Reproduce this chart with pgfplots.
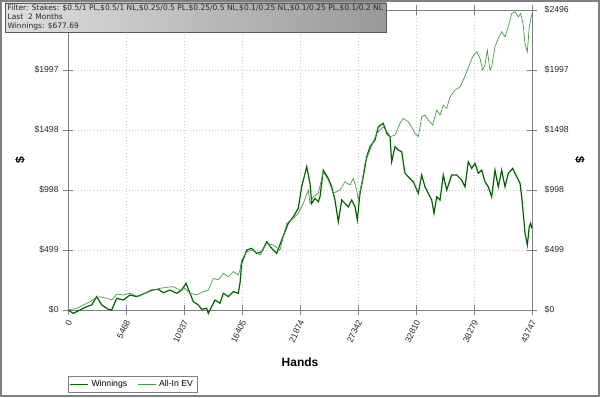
\documentclass[border=0pt]{standalone}
\usepackage{pgfplots}
\pgfplotsset{compat=1.18}
\usepackage{fontspec}
\setmainfont{Liberation Sans}
\newfontfamily\dejavu{DejaVu Sans}
\definecolor{wincol}{RGB}{0,100,0}
\definecolor{evcol}{RGB}{70,150,70}
\definecolor{gridcol}{RGB}{200,200,200}
\definecolor{axiscol}{RGB}{128,128,128}
\definecolor{txtcol}{RGB}{40,40,40}
\begin{document}
\begin{tikzpicture}
\useasboundingbox (-51pt,-65.25pt) rectangle (399pt,232.5pt);
\draw[axiscol,line width=1.2pt] (-50.4pt,-64.65pt) rectangle (398.4pt,231.9pt);
\begin{axis}[
  at={(0,0)}, anchor=south west, scale only axis,
  width=348pt, height=225pt,
  xmin=0, xmax=43747, ymin=0, ymax=2496,
  clip=false,
  scaled x ticks=false, scaled y ticks=false,
  axis line style={axiscol},
  xtick={0,5468,10937,16405,21874,27342,32810,38279,43747},
  xticklabels={0,5468,10937,16405,21874,27342,32810,38279,43747},
  ytick={0,499,998,1498,1997,2496},
  yticklabels={\$0,\$499,\$998,\$1498,\$1997,\$2496},
  minor x tick num=4, minor y tick num=4,
  tick align=center,
  major tick length=7pt, minor tick length=4pt,
  every tick/.style={axiscol, line width=0.5pt},
  xtick pos=both, ytick pos=both,
  xticklabel pos=bottom, yticklabel pos=left,
  grid=major,
  major grid style={gridcol, dotted, line width=0.5pt},
  tick label style={font=\fontsize{6.5}{7.5}\selectfont, text=txtcol},
  xticklabel style={rotate=65, anchor=east, yshift=-3pt},
  yticklabel style={xshift=0pt},
  xlabel={Hands}, ylabel={\$},
  xlabel style={at={(axis description cs:0.5,-0.173)}, anchor=center, font=\fontsize{9}{10}\selectfont\bfseries},
  ylabel style={at={(axis description cs:-0.103,0.5)}, anchor=center, rotate=0, font=\fontsize{9}{10}\selectfont\bfseries},
  legend style={at={(axis description cs:0,-0.219)}, anchor=north west, draw=axiscol, line width=0.5pt,
    font=\fontsize{6.5}{7.5}\selectfont, inner sep=1pt, row sep=-1pt,
    /tikz/every even column/.append style={column sep=6pt}},
  legend columns=2,
  legend image code/.code={\draw[#1] (0pt,0pt) -- (13.5pt,0pt);},
]
\addplot[wincol, line width=0.9pt] table {
x y
0 0
500 -28
1131 0
1760 28
2232 42
2704 111
3174 42
3800 6
4118 0
4590 97
5215 83
5845 125
6475 111
7260 139
7890 166
8515 172
8985 144
9617 166
10245 139
10720 166
11125 222
11502 139
11815 69
12285 42
12605 6
13075 14
13230 -28
13548 28
13860 83
14330 56
14645 139
15115 111
15585 153
16055 139
16216 222
16375 388
16848 499
17320 513
17790 471
18262 485
18733 568
19205 513
19676 471
20147 582
20770 721
21242 776
21713 846
22030 1025
22505 1192
22816 1054
22975 887
23287 929
23600 901
23760 942
24070 1164
24540 1095
24860 1025
25170 915
25485 734
25805 915
26115 887
26430 859
26745 915
27060 859
27275 749
27530 971
27840 1109
28160 1275
28470 1358
28945 1414
29255 1524
29726 1553
30047 1470
30358 1441
30518 1233
30830 1358
31140 1331
31460 1317
31772 1137
32083 1109
32555 1067
33027 971
33347 1123
33658 1025
33970 971
34290 915
34507 804
34760 942
35072 915
35384 1123
35704 998
36175 1123
36646 1123
37118 1081
37430 1025
37740 1233
38062 1178
38373 1220
38683 1137
39004 1164
39315 1067
39626 1025
39947 942
40258 1164
40569 1025
40890 1164
41200 1025
41512 1137
41925 1178
42303 1109
42615 1054
42775 942
42925 804
43085 638
43305 541
43490 693
43620 721
43747 677.69
};
\addlegendentry{Winnings}
\addplot[evcol, line width=0.5pt] table {
x y
0 0
817 14
1446 42
2074 69
2546 97
3017 111
3646 97
4118 83
4590 133
5215 125
5845 139
6630 111
7260 139
8045 166
8674 180
9305 189
9930 194
10560 166
11030 180
11502 139
12133 125
12760 153
13230 166
13700 263
14170 250
14645 305
15115 277
15585 319
16055 291
16216 333
16375 416
16848 485
17475 499
18100 457
18733 555
19355 541
19987 499
20620 721
21242 763
21713 804
22184 887
22656 998
22816 887
23127 942
23600 971
24070 1150
24540 1081
25015 971
25645 998
26115 1067
26587 1040
26900 1095
27220 998
27370 915
27690 1054
28000 1220
28470 1331
29105 1470
29726 1524
30200 1470
30358 1441
30830 1455
31300 1553
31613 1594
32083 1566
32405 1524
32715 1470
33027 1441
33347 1608
33658 1622
33970 1580
34384 1539
34760 1663
35072 1622
35384 1705
35704 1677
36015 1774
36486 1830
36958 1857
37270 1913
37590 1982
37900 2052
38155 2107
38533 2148
38843 2093
39098 1996
39315 2038
39533 2162
39786 1996
39947 2024
40258 2190
40569 2260
40890 2315
41200 2273
41512 2356
41833 2467
42144 2481
42455 2439
42680 2467
42925 2370
43085 2218
43305 2148
43490 2356
43620 2412
43747 2467
};
\addlegendentry{All-In EV}
\end{axis}
\begin{axis}[
  at={(0,0)}, anchor=south west, scale only axis,
  width=348pt, height=225pt,
  xmin=0, xmax=43747, ymin=0, ymax=2496,
  hide x axis,
  axis y line*=right,
  axis line style={draw=none},
  ytick={0,499,998,1498,1997,2496},
  yticklabels={\$0,\$499,\$998,\$1498,\$1997,\$2496},
  major tick length=0pt, minor tick length=0pt,
  tick label style={font=\fontsize{6.5}{7.5}\selectfont, text=txtcol},
  yticklabel style={xshift=6pt},
  ylabel={\$},
  ylabel style={at={(axis description cs:1.103,0.5)}, anchor=center, rotate=180, font=\fontsize{9}{10}\selectfont\bfseries},
]
\end{axis}
\shade[left color=gray!25, right color=gray!80, draw=gray!70!black, line width=0.5pt] (-47.25pt,208.5pt) rectangle (238.5pt,230.25pt);
\node[anchor=north west, align=left, inner sep=0pt, text=txtcol, font=\dejavu\fontsize{5.65}{6.8}\selectfont] at (-45.5pt,229.2pt)
{Filter: Stakes: \$0.5/1 PL,\$0.5/1 NL,\$0.25/0.5 PL,\$0.25/0.5 NL,\$0.1/0.25 NL,\$0.1/0.25 PL,\$0.1/0.2 NL\\Last\ \ 2 Months\\Winnings: \$677.69};
\end{tikzpicture}
\end{document}
